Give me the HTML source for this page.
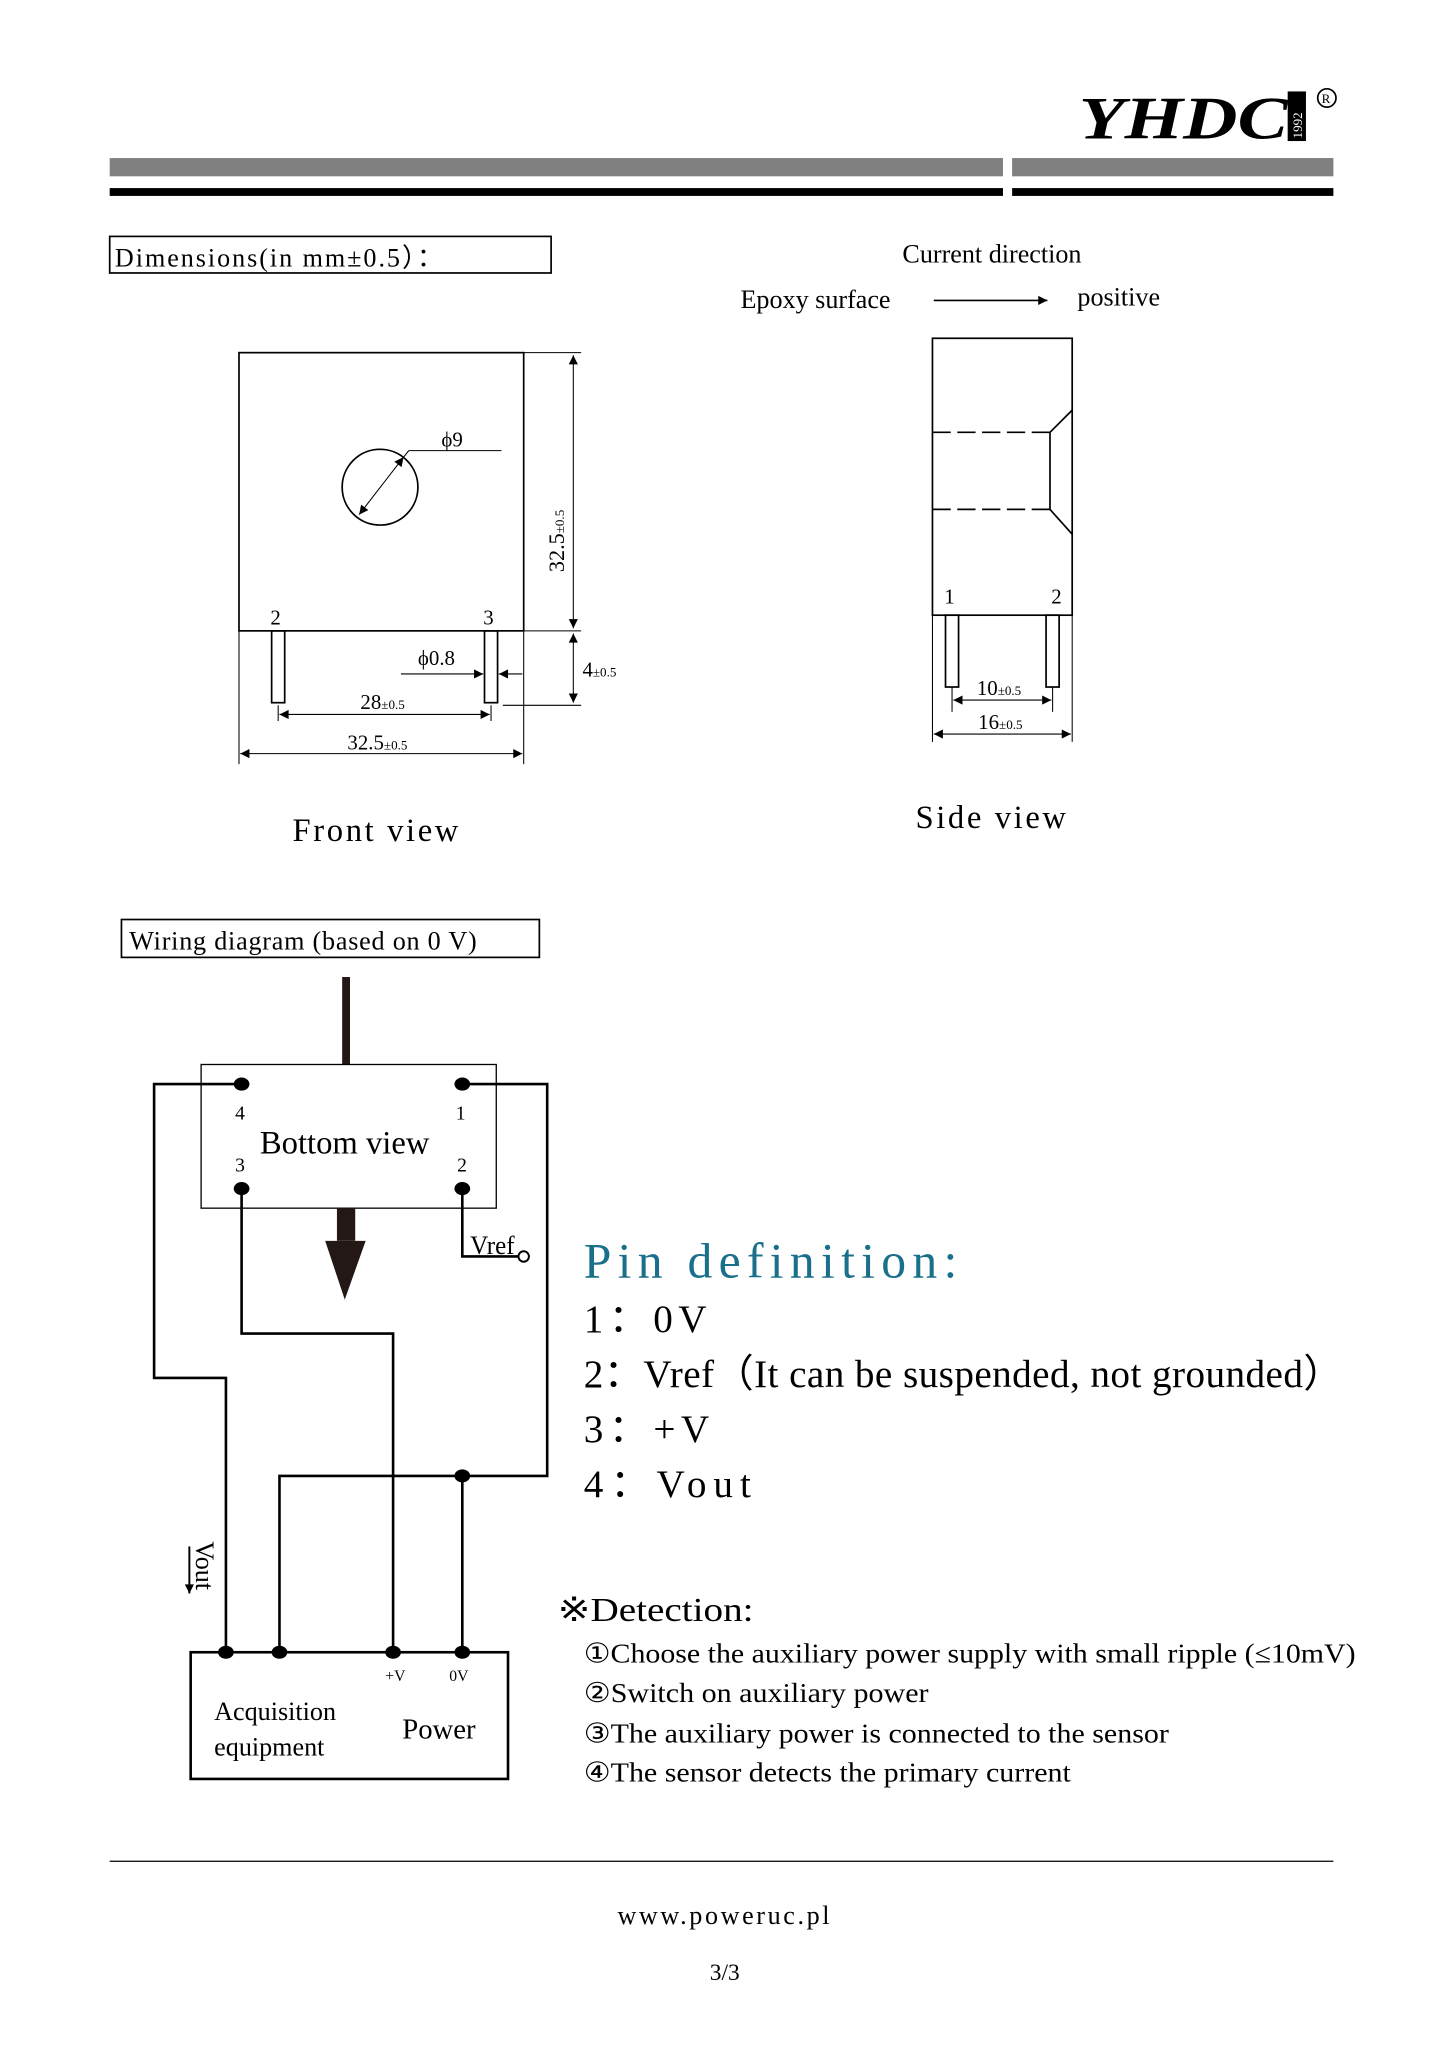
<!DOCTYPE html>
<html><head><meta charset="utf-8"><style>
html,body{margin:0;padding:0;background:#fff}
svg{display:block}
text{font-family:"Liberation Serif",serif;fill:#000}
</style></head><body>
<svg width="1447" height="2048" viewBox="0 0 1108 1568" preserveAspectRatio="none" xmlns="http://www.w3.org/2000/svg">
<defs>
<marker id="a" viewBox="0 0 10 10" refX="10" refY="5" markerWidth="9" markerHeight="7" orient="auto-start-reverse" markerUnits="userSpaceOnUse"><path d="M0,0L10,5L0,10z" fill="#000"/></marker>
</defs>
<g>
<text x="826" y="106" font-family="Liberation Sans" font-weight="bold" font-style="italic" font-size="46" textLength="160" lengthAdjust="spacingAndGlyphs">YHDC</text>
<rect x="986" y="70" width="14" height="38" fill="#000"/>
<text x="997" y="106" font-size="10" style="fill:#fff" transform="rotate(-90 997 106)" font-family="Liberation Sans">1992</text>
<circle cx="1016" cy="75" r="7" fill="none" stroke="#000" stroke-width="1.3"/>
<text x="1012" y="79" font-size="10" font-family="Liberation Sans">R</text>
<rect x="84" y="121" width="684" height="14" fill="#808080"/>
<rect x="775" y="121" width="246" height="14" fill="#808080"/>
<rect x="84" y="144" width="684" height="6" fill="#000"/>
<rect x="775" y="144" width="246" height="6" fill="#000"/>
</g>
<rect x="84" y="181" width="338" height="28" fill="none" stroke="#000" stroke-width="1.3"/>
<text x="88" y="204" font-size="20" letter-spacing="1.5">Dimensions(in mm±0.5）：</text>
<g stroke="#000" fill="none" stroke-width="1.3">
<rect x="183" y="270" width="218" height="213"/>
<circle cx="291" cy="373" r="29"/>
<rect x="208" y="483" width="10" height="55"/>
<rect x="371" y="483" width="10" height="55"/>
</g>
<g stroke="#000" stroke-width="0.8" fill="none">
<line x1="275" y1="394" x2="309" y2="350" marker-start="url(#a)" marker-end="url(#a)"/>
<line x1="309" y1="350" x2="313" y2="345"/><line x1="313" y1="345" x2="384" y2="345"/>
<line x1="401" y1="270" x2="445" y2="270"/>
<line x1="401" y1="483" x2="445" y2="483"/>
<line x1="439" y1="272" x2="439" y2="481" marker-start="url(#a)" marker-end="url(#a)"/>
<line x1="439" y1="485" x2="439" y2="538" marker-start="url(#a)" marker-end="url(#a)"/>
<line x1="385" y1="540" x2="445" y2="540"/>
<line x1="307" y1="516" x2="370" y2="516" marker-end="url(#a)"/>
<line x1="400" y1="516" x2="382" y2="516" marker-end="url(#a)"/>
<line x1="213" y1="540" x2="213" y2="552"/><line x1="376" y1="540" x2="376" y2="552"/>
<line x1="214" y1="547" x2="375" y2="547" marker-start="url(#a)" marker-end="url(#a)"/>
<line x1="183" y1="483" x2="183" y2="585"/><line x1="401" y1="483" x2="401" y2="585"/>
<line x1="184" y1="577" x2="400" y2="577" marker-start="url(#a)" marker-end="url(#a)"/>
</g>
<text x="338" y="342" font-size="16">ϕ9</text>
<text x="207" y="478" font-size="16">2</text>
<text x="370" y="478" font-size="16">3</text>
<text x="320" y="509" font-size="16">ϕ0.8</text>
<text x="276" y="543" font-size="16">28<tspan font-size="10">±0.5</tspan></text>
<text x="266" y="574" font-size="16">32.5<tspan font-size="10">±0.5</tspan></text>
<text x="446" y="518" font-size="16">4<tspan font-size="10">±0.5</tspan></text>
<text x="432" y="438" font-size="17" transform="rotate(-90 432 438)">32.5<tspan font-size="10">±0.5</tspan></text>
<text x="224" y="644" font-size="25" letter-spacing="2">Front view</text>
<text x="691" y="201" font-size="20">Current direction</text>
<text x="567" y="236" font-size="20">Epoxy surface</text>
<text x="825" y="234" font-size="20">positive</text>
<line x1="715" y1="230" x2="802" y2="230" stroke="#000" stroke-width="1.2" marker-end="url(#a)"/>
<g stroke="#000" fill="none" stroke-width="1.3">
<rect x="714" y="259" width="107" height="212"/>
<line x1="714" y1="331" x2="804" y2="331" stroke-dasharray="14,5"/>
<line x1="714" y1="390" x2="804" y2="390" stroke-dasharray="14,5"/>
<line x1="804" y1="331" x2="804" y2="390"/>
<line x1="804" y1="331" x2="821" y2="314"/>
<line x1="804" y1="390" x2="821" y2="409"/>
<rect x="724" y="471" width="10" height="55"/>
<rect x="801" y="471" width="10" height="55"/>
</g>
<g stroke="#000" stroke-width="0.8">
<line x1="729" y1="526" x2="729" y2="545"/><line x1="806" y1="526" x2="806" y2="545"/>
<line x1="730" y1="536" x2="805" y2="536" marker-start="url(#a)" marker-end="url(#a)"/>
<line x1="714" y1="471" x2="714" y2="568"/><line x1="821" y1="471" x2="821" y2="568"/>
<line x1="715" y1="562" x2="820" y2="562" marker-start="url(#a)" marker-end="url(#a)"/>
</g>
<text x="723" y="462" font-size="16">1</text>
<text x="805" y="462" font-size="16">2</text>
<text x="748" y="532" font-size="16">10<tspan font-size="10">±0.5</tspan></text>
<text x="749" y="558" font-size="16">16<tspan font-size="10">±0.5</tspan></text>
<text x="701" y="634" font-size="25" letter-spacing="2">Side view</text>
<rect x="93" y="704" width="320" height="29" fill="none" stroke="#000" stroke-width="1.3"/>
<text x="99" y="727" font-size="20" letter-spacing="0.6">Wiring diagram (based on 0 V)</text>
<line x1="265" y1="748" x2="265" y2="815" stroke="#231815" stroke-width="6"/>
<rect x="154" y="815" width="226" height="110" fill="none" stroke="#000" stroke-width="1"/>
<rect x="258" y="925" width="14" height="25" fill="#231815"/>
<path d="M249,950L280,950L264,995z" fill="#231815"/>
<g stroke="#000" stroke-width="2" fill="none">
<polyline points="185,830 118,830 118,1055 173,1055 173,1265"/>
<polyline points="354,830 419,830 419,1130 214,1130 214,1265"/>
<polyline points="185,910 185,1021 301,1021 301,1265"/>
<line x1="354" y1="1130" x2="354" y2="1265"/>
<polyline points="354,910 354,962 397,962"/>
<rect x="146" y="1265" width="243" height="97"/>
</g>
<circle cx="401" cy="962" r="4" fill="#fff" stroke="#000" stroke-width="1.5"/>
<g fill="#000">
<ellipse cx="185" cy="830" rx="6" ry="5"/><ellipse cx="354" cy="830" rx="6" ry="5"/>
<ellipse cx="185" cy="910" rx="6" ry="5"/><ellipse cx="354" cy="910" rx="6" ry="5"/>
<ellipse cx="354" cy="1130" rx="6" ry="5"/>
<ellipse cx="173" cy="1265" rx="6" ry="5"/><ellipse cx="214" cy="1265" rx="6" ry="5"/>
<ellipse cx="301" cy="1265" rx="6" ry="5"/><ellipse cx="354" cy="1265" rx="6" ry="5"/>
</g>
<text x="180" y="857" font-size="15">4</text>
<text x="349" y="857" font-size="15">1</text>
<text x="180" y="897" font-size="15">3</text>
<text x="350" y="897" font-size="15">2</text>
<text x="199" y="883" font-size="25">Bottom view</text>
<text x="360" y="960" font-size="20" textLength="34" lengthAdjust="spacingAndGlyphs">Vref</text>
<text x="150" y="1180" font-size="20" transform="rotate(90 150 1180)">Vout</text>
<line x1="145" y1="1184" x2="145" y2="1220" stroke="#000" stroke-width="1.5" marker-end="url(#a)"/>
<text x="295" y="1287" font-size="12">+V</text>
<text x="344" y="1287" font-size="12">0V</text>
<text x="164" y="1317" font-size="20">Acquisition</text>
<text x="164" y="1344" font-size="20">equipment</text>
<text x="308" y="1331" font-size="22">Power</text>
<text x="447" y="978" font-size="38" style="fill:#1a6f8a" textLength="286" lengthAdjust="spacing">Pin definition:</text>
<text x="447" y="1020" font-size="30" textLength="94" lengthAdjust="spacing">1：0V</text>
<text x="447" y="1062" font-size="30" textLength="581" lengthAdjust="spacing">2：Vref（It can be suspended, not grounded）</text>
<text x="447" y="1104" font-size="30" textLength="96" lengthAdjust="spacing">3：+V</text>
<text x="447" y="1146" font-size="30" textLength="128" lengthAdjust="spacing">4：Vout</text>
<text x="427" y="1241" font-size="26" font-family="Liberation Serif, Noto Serif CJK SC, serif" textLength="150" lengthAdjust="spacingAndGlyphs">※Detection:</text>
<text x="447" y="1273" font-size="21" textLength="591" lengthAdjust="spacingAndGlyphs">①Choose the auxiliary power supply with small ripple (≤10mV)</text>
<text x="447" y="1303" font-size="21" textLength="264" lengthAdjust="spacingAndGlyphs">②Switch on auxiliary power</text>
<text x="447" y="1334" font-size="21" textLength="448" lengthAdjust="spacingAndGlyphs">③The auxiliary power is connected to the sensor</text>
<text x="447" y="1364" font-size="21" textLength="373" lengthAdjust="spacingAndGlyphs">④The sensor detects the primary current</text>
<line x1="84" y1="1425" x2="1021" y2="1425" stroke="#000" stroke-width="1"/>
<text x="555" y="1473" font-size="20" text-anchor="middle" letter-spacing="2">www.poweruc.pl</text>
<text x="555" y="1516" font-size="18" text-anchor="middle">3/3</text>
</svg>
</body></html>
